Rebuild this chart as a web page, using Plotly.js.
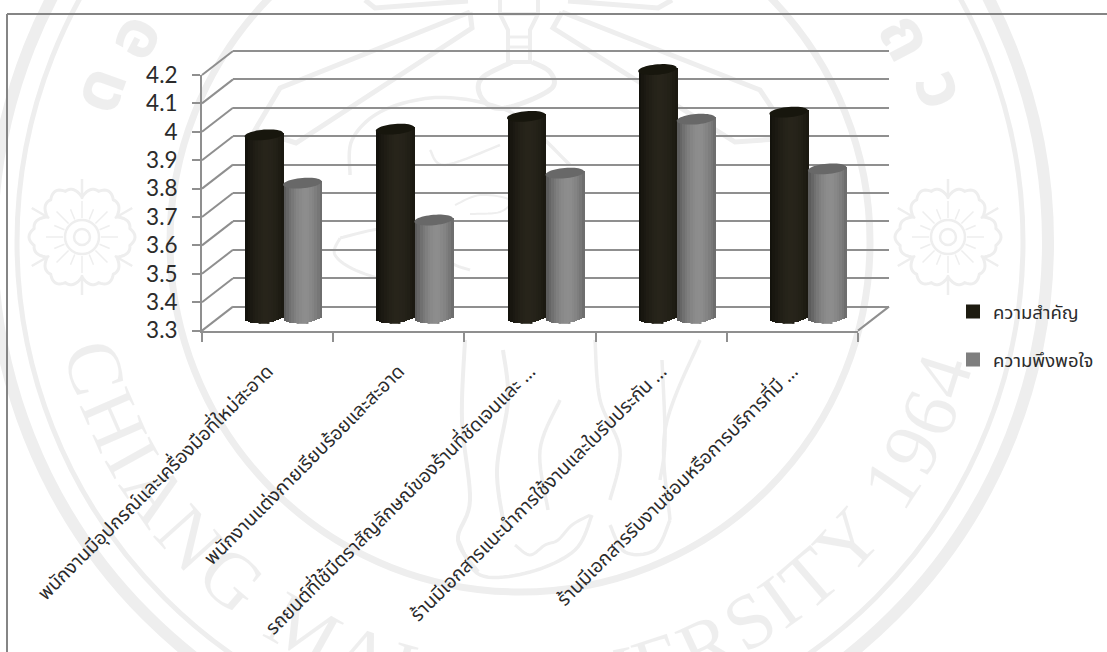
<!DOCTYPE html>
<html>
<head>
<meta charset="utf-8">
<script src="https://cdn.plot.ly/plotly-3.0.1.min.js"></script>
<style>html,body{margin:0;padding:0;background:#fff}#chart{width:1107px;height:652px}</style>
</head>
<body>
<div id="chart"></div>
<script>
// Chart content
const categories = [
  'พนักงานมีอุปกรณ์และเครื่องมือที่ใหม่สะอาด',
  'พนักงานแต่งกายเรียบร้อยและสะอาด',
  'รถยนต์ที่ใช้มีตราสัญลักษณ์ของร้านที่ชัดเจนและ …',
  'ร้านมีเอกสารแนะนำการใช้งานและใบรับประกัน …',
  'ร้านมีเอกสารรับงานซ่อมหรือการบริการที่มี …'
];
const seriesNames = ['ความสำคัญ', 'ความพึงพอใจ'];
const importance = [3.945, 3.965, 4.01, 4.175, 4.025];
const satisfaction = [3.775, 3.645, 3.81, 4.0, 3.825];
const axisTicks = [3.3, 3.4, 3.5, 3.6, 3.7, 3.8, 3.9, 4, 4.1, 4.2];
const axisTickLabels = ['3.3', '3.4', '3.5', '3.6', '3.7', '3.8', '3.9', '4', '4.1', '4.2'];

// Page geometry, in pixels
const W = 1107, H = 652;
const FRONT = {x0: 202, x1: 858, y0: 330.6, y1: 75};
const WALL = {dx: 31, dy: 24};
const MID = {dx: 15.5, dy: 12.6};
const AXIS_MIN = 3.3, AXIS_MAX = 4.2;
const perUnit = (FRONT.y0 - FRONT.y1) / (AXIS_MAX - AXIS_MIN);
const catPx = (FRONT.x1 - FRONT.x0) / categories.length;

const FONT_TH = '"Noto Sans Thai","Noto Sans","DejaVu Sans",sans-serif';
const LINE = '#8f8f8f';
const INK = '#2b2b2b';
const px = x => x / W;
const py = y => 1 - y / H;
const domX = d => [px(FRONT.x0 + d), px(FRONT.x1 + d)];
// Vertical domain for a value range, lifted by d pixels
const domY = (d, lo, hi) => [py(FRONT.y0 - d - (lo - AXIS_MIN) * perUnit), py(FRONT.y0 - d - (hi - AXIS_MIN) * perUnit)];
const mixHex = (a, b, t) => {
  const c = s => [1, 3, 5].map(i => parseInt(s.substr(i, 2), 16));
  const A = c(a), B = c(b);
  return 'rgb(' + A.map((v, i) => Math.round(v + (B[i] - v) * t)).join(',') + ')';
};

// Cylinder look for each series
const CYL = {
  halfWidth: 38.5 / catPx / 2,
  slices: 15,
  capPx: 5.2,
  tiltPx: 1.6
};
const looks = [
  {values: importance, offset: -1, swatch: '#1d1b10', centre: '#27241a', edge: '#11100a', cap: '#17160d'},
  {values: satisfaction, offset: 1, swatch: '#7f7f7f', centre: '#8d8d8d', edge: '#565656', cap: '#686868'}
];

// Ranges: the wall and the cylinder layer reach a little past the scale ends
const wallRange = [AXIS_MIN - 0.01, AXIS_MAX + 0.01];
const midRange = [AXIS_MIN - 0.02, AXIS_MAX];

const indices = categories.map((_, i) => i);
const traces = [];

// Empty traces keep the front axes and the back wall in the figure
traces.push({type: 'scatter', mode: 'none', x: categories, y: categories.map(() => null), xaxis: 'x', yaxis: 'y', showlegend: false, hoverinfo: 'skip'});
traces.push({type: 'scatter', mode: 'none', x: indices, y: indices.map(() => null), xaxis: 'x2', yaxis: 'y2', showlegend: false, hoverinfo: 'skip'});

const capShapes = [];
looks.forEach((look, s) => {
  const cw = CYL.halfWidth;
  // The series bar itself: carries the legend entry, sits inside the shaded slices
  traces.push({
    type: 'bar', name: seriesNames[s], legendgroup: seriesNames[s],
    x: indices, y: look.values, xaxis: 'x3', yaxis: 'y3',
    width: cw * 0.5, offset: look.offset * cw - cw * 0.25,
    marker: {color: look.swatch, line: {color: look.swatch, width: 2}},
    hoverinfo: 'y+name'
  });
  // Vertical slices give the round shading and the curved foot
  const n = CYL.slices;
  for (let k = 0; k < n; k++) {
    const u = (k + 0.5) / n * 2 - 1;
    const t = Math.min(1, Math.pow(Math.abs(u - 0.12) / 1.12, 1.8));
    const foot = AXIS_MIN - (CYL.capPx * Math.sqrt(1 - u * u) - CYL.tiltPx * u) / perUnit;
    traces.push({
      type: 'bar', legendgroup: seriesNames[s], showlegend: false, hoverinfo: 'skip',
      x: indices,
      y: look.values.map(v => v + CYL.tiltPx * u / perUnit - foot),
      base: indices.map(() => foot),
      xaxis: 'x3', yaxis: 'y3',
      width: 2 * cw / n * 1.15,
      offset: look.offset * cw + u * cw - cw / n,
      marker: {color: mixHex(look.centre, look.edge, t), line: {width: 0}}
    });
  }
  // Top faces
  look.values.forEach((v, i) => {
    const cx = i + look.offset * cw;
    let d = '';
    for (let a = 0; a <= 48; a++) {
      const th = a / 48 * 2 * Math.PI;
      const ex = cx + cw * Math.cos(th);
      const ey = v + (CYL.capPx * Math.sin(th) + CYL.tiltPx * Math.cos(th)) / perUnit;
      d += (a ? 'L' : 'M') + ex.toFixed(4) + ',' + ey.toFixed(4);
    }
    capShapes.push({type: 'path', xref: 'x3', yref: 'y3', layer: 'above', path: d + 'Z', fillcolor: look.cap, line: {width: 0}});
  });
});

// Floor and side wall diagonals
const diag = (x0, y0, x1, y1) => ({type: 'line', xref: 'paper', yref: 'paper', layer: 'below', x0: px(x0), y0: py(y0), x1: px(x1), y1: py(y1), line: {color: LINE, width: 2}});
const frameShapes = [
  diag(7, 14, W, 14),
  diag(7, 14, 7, H),
  diag(FRONT.x1, FRONT.y0, FRONT.x1 + WALL.dx, FRONT.y0 - WALL.dy)
].map((o, i) => i < 2 ? Object.assign(o, {line: {color: '#858585', width: 2}}) : o);
axisTicks.forEach(v => {
  const y = FRONT.y0 - (v - AXIS_MIN) * perUnit;
  frameShapes.push(diag(FRONT.x0, y, FRONT.x0 + WALL.dx, y - WALL.dy));
});

// University seal printed behind the page
const SEAL = {cx: 520, cy: 242, tint: '#eeeeee'};
const ring = (r, w) => ({type: 'circle', xref: 'paper', yref: 'paper', layer: 'below', x0: px(SEAL.cx - r), x1: px(SEAL.cx + r), y0: py(SEAL.cy - r), y1: py(SEAL.cy + r), line: {color: SEAL.tint, width: w}});
const stroke = (pts, w, close) => ({
  type: 'path', xref: 'paper', yref: 'paper', layer: 'below',
  path: pts.map((p, i) => (i ? 'L' : 'M') + px(p[0]).toFixed(5) + ',' + py(p[1]).toFixed(5)).join('') + (close ? 'Z' : ''),
  line: {color: SEAL.tint, width: w}
});
const smooth = (pts, w) => {
  // Catmull-Rom resampling for the drawn outlines
  const out = [];
  for (let i = 0; i < pts.length - 1; i++) {
    const p0 = pts[Math.max(i - 1, 0)], p1 = pts[i], p2 = pts[i + 1], p3 = pts[Math.min(i + 2, pts.length - 1)];
    for (let j = 0; j < 10; j++) {
      const t = j / 10, t2 = t * t, t3 = t2 * t;
      out.push([0, 1].map(a => 0.5 * (2 * p1[a] + (p2[a] - p0[a]) * t + (2 * p0[a] - 5 * p1[a] + 4 * p2[a] - p3[a]) * t2 + (3 * p1[a] - p0[a] - 3 * p2[a] + p3[a]) * t3)));
    }
  }
  out.push(pts[pts.length - 1]);
  return stroke(out, w);
};
const rosette = (cx, cy) => {
  const list = [];
  const outline = [];
  for (let a = 0; a < 180; a++) {
    const th = a / 180 * 2 * Math.PI;
    const r = 40 + 10 * Math.abs(Math.cos(3 * th)) + 3 * Math.abs(Math.cos(9 * th));
    outline.push([cx + r * Math.cos(th), cy + r * Math.sin(th)]);
  }
  list.push(stroke(outline, 3, true));
  [8, 17].forEach(r => list.push({type: 'circle', xref: 'paper', yref: 'paper', layer: 'below', x0: px(cx - r), x1: px(cx + r), y0: py(cy - r), y1: py(cy + r), line: {color: SEAL.tint, width: 2.5}}));
  for (let a = 0; a < 16; a++) {
    const th = a / 16 * 2 * Math.PI;
    const far = a % 2 ? 30 : 36;
    list.push(stroke([[cx + 19 * Math.cos(th), cy + 19 * Math.sin(th)], [cx + far * Math.cos(th), cy + far * Math.sin(th)]], 1.5));
  }
  for (let a = 0; a < 6; a++) {
    const th = (a + 0.5) / 6 * 2 * Math.PI;
    list.push(stroke([[cx + 38 * Math.cos(th), cy + 38 * Math.sin(th)], [cx + 58 * Math.cos(th), cy + 58 * Math.sin(th)]], 2.5));
  }
  return list;
};
const sealShapes = [
  ring(350, 7), ring(503, 5), ring(528, 12),
  ...rosette(82, 237), ...rosette(948, 237),
  // torch
  stroke([[500, 0], [500, 14], [508, 30], [508, 62], [530, 62], [530, 30], [538, 14], [538, 0]], 4),
  stroke([[500, 14], [538, 14]], 4),
  stroke([[508, 37], [530, 37]], 3), stroke([[508, 47], [530, 47]], 3),
  // rays
  stroke([[470, 12], [280, 88], [255, 130], [296, 143], [472, 28], [470, 12]], 5),
  stroke([[562, 12], [760, 90], [792, 138], [735, 142], [553, 28], [562, 12]], 5),
  stroke([[365, 0], [375, 8], [468, 1]], 5),
  stroke([[568, 1], [658, 8], [672, 0]], 5),
  // elephant head and trunk
  smooth([[512, 62], [482, 78], [480, 95], [495, 108], [520, 104], [552, 88], [550, 72], [532, 62]], 5),
  smooth([[350, 175], [352, 140], [380, 112], [430, 98], [480, 102], [520, 118], [570, 165]], 3.5),
  smooth([[340, 238], [390, 228], [430, 240], [450, 262], [470, 270]], 3),
  smooth([[340, 238], [335, 255], [360, 272], [420, 290]], 3),
  smooth([[430, 150], [445, 165], [500, 145]], 2.5),
  smooth([[455, 205], [480, 195], [510, 200], [500, 212], [470, 214]], 2),
  // legs and feet
  smooth([[465, 340], [462, 420], [470, 500], [458, 540], [478, 572]], 4),
  smooth([[503, 350], [508, 400], [497, 470], [505, 530]], 4),
  smooth([[560, 400], [540, 450], [548, 510]], 3.5),
  smooth([[595, 340], [600, 400], [620, 450], [610, 500]], 3.5),
  smooth([[662, 360], [665, 440], [660, 480]], 3.5),
  smooth([[700, 340], [665, 430], [670, 520]], 3.5),
  smooth([[458, 540], [480, 575], [530, 572], [575, 550], [592, 515]], 3.5),
  smooth([[610, 525], [625, 552], [655, 550], [670, 520]], 3.5),
  smooth([[515, 545], [530, 555], [545, 545], [558, 540], [572, 525], [590, 515]], 3)
];

const sealText = 'CHIANG MAI UNIVERSITY 1964'.split('');
const sealAdvance = [.67, .72, .33, .72, .72, .72, .3, .89, .72, .33, .3, .72, .72, .33, .72, .61, .67, .56, .33, .61, .72, .3, .5, .5, .5, .5];
const sealFrom = 77, sealTo = -75, sealRadius = 443;
const advanceTotal = sealAdvance.reduce((a, b) => a + b, 0);
const sealNotes = [];
let run = 0;
sealText.forEach((ch, i) => {
  const phi = sealFrom + (sealTo - sealFrom) * (run + sealAdvance[i] / 2) / advanceTotal;
  run += sealAdvance[i];
  if (ch === ' ') return;
  const rad = phi * Math.PI / 180;
  sealNotes.push({
    xref: 'paper', yref: 'paper', showarrow: false, xanchor: 'center', yanchor: 'middle',
    x: px(SEAL.cx - sealRadius * Math.sin(rad)), y: py(SEAL.cy + sealRadius * Math.cos(rad)),
    text: ch, textangle: phi,
    font: {family: '"Liberation Serif",serif', size: 78, color: 'rgba(0,0,0,0.065)'}
  });
});
// Thai name on the upper arc, only its two ends fall on the page
[['ด', -70, 445], ['อ', -62, 435], ['ถ', 62, 435], ['ว', 70, 445]].forEach(([ch, phi, r]) => {
  const rad = phi * Math.PI / 180;
  sealNotes.push({
    xref: 'paper', yref: 'paper', showarrow: false, xanchor: 'center', yanchor: 'middle',
    x: px(SEAL.cx + r * Math.sin(rad)), y: py(SEAL.cy - r * Math.cos(rad)),
    text: ch, textangle: phi,
    font: {family: FONT_TH, size: 68, weight: 700, color: 'rgba(0,0,0,0.065)'}
  });
});

const layout = {
  width: W, height: H, autosize: false,
  margin: {l: 0, r: 0, t: 0, b: 0, autoexpand: false},
  paper_bgcolor: '#ffffff', plot_bgcolor: 'rgba(0,0,0,0)',
  barmode: 'overlay', bargap: 0,
  font: {family: FONT_TH, color: INK},
  xaxis: {
    domain: domX(0), anchor: 'y', type: 'category', categoryorder: 'array', categoryarray: categories,
    range: [-0.5, categories.length - 0.5], tickson: 'boundaries', ticks: 'outside', ticklen: 9, tickwidth: 2, tickcolor: LINE,
    showline: true, linecolor: LINE, linewidth: 2, showgrid: false, zeroline: false, tickangle: -45,
    ticklabelstandoff: 20, tickfont: {family: FONT_TH, size: 19, color: INK}, automargin: false, fixedrange: true
  },
  yaxis: {
    domain: domY(0, AXIS_MIN, AXIS_MAX), anchor: 'x', range: [AXIS_MIN, AXIS_MAX], tickmode: 'array', tickvals: axisTicks, ticktext: axisTickLabels,
    ticks: 'outside', ticklen: 8, tickwidth: 2, tickcolor: LINE, showline: true, linecolor: LINE, linewidth: 2, showgrid: false,
    zeroline: false, ticklabelstandoff: 10, tickfont: {family: 'Lato,sans-serif', size: 22.5, color: INK}, automargin: false, fixedrange: true
  },
  // Back wall with its horizontal rules
  xaxis2: {domain: domX(WALL.dx), anchor: 'y2', range: [-0.5, categories.length - 0.5], showgrid: false, showline: false, zeroline: false, showticklabels: false, ticks: '', fixedrange: true},
  yaxis2: {domain: domY(WALL.dy, wallRange[0], wallRange[1]), anchor: 'x2', range: wallRange, tickmode: 'array', tickvals: axisTicks, showgrid: true, gridcolor: LINE, gridwidth: 2, showline: false, zeroline: false, showticklabels: false, ticks: '', fixedrange: true},
  // Mid depth, where the cylinders stand
  xaxis3: {domain: domX(MID.dx), anchor: 'y3', range: [-0.5, categories.length - 0.5], showgrid: false, showline: false, zeroline: false, showticklabels: false, ticks: '', fixedrange: true},
  yaxis3: {domain: domY(MID.dy, midRange[0], midRange[1]), anchor: 'x3', range: midRange, showgrid: false, showline: false, zeroline: false, showticklabels: false, ticks: '', fixedrange: true},
  legend: {
    x: px(953), xanchor: 'left', y: py(293), yanchor: 'top', traceorder: 'grouped', tracegroupgap: 21,
    bgcolor: 'rgba(0,0,0,0)', font: {family: FONT_TH, size: 18.5, color: INK}, itemclick: false, itemdoubleclick: false
  },
  showlegend: true,
  shapes: [...sealShapes, ...frameShapes, ...capShapes],
  annotations: sealNotes
};

Plotly.newPlot('chart', traces, layout, {displayModeBar: false, responsive: false});
</script>
</body>
</html>
